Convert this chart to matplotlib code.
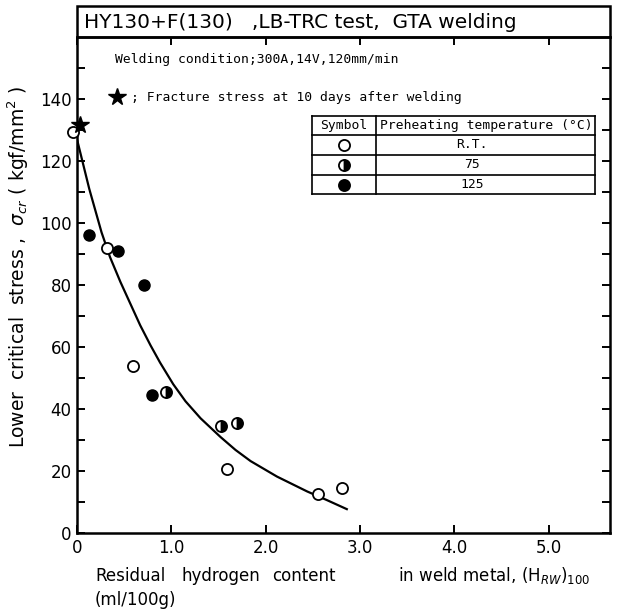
import matplotlib
matplotlib.use('Agg')
import matplotlib.pyplot as plt
from matplotlib.patches import Rectangle

# measured points, grouped by preheating temperature
rt_x = [-0.04, 0.32, 0.59, 1.59, 2.55, 2.81]
rt_y = [129.5, 92, 54, 20.5, 12.5, 14.5]
t75_x = [0.94, 1.53, 1.70]
t75_y = [45.5, 34.5, 35.5]
t125_x = [0.13, 0.43, 0.71, 0.79]
t125_y = [96, 91, 80, 44.5]
star_x = [0.03]
star_y = [131.5]

# hand drawn trend curve
curve_x = [0.0, 0.13, 0.26, 0.35, 0.46, 0.58, 0.67, 0.78, 0.88, 1.02, 1.15, 1.31, 1.52,
           1.68, 1.84, 2.12, 2.44, 2.65, 2.86]
curve_y = [127, 111, 97, 89, 81, 73, 67, 60.5, 55, 48, 42.5, 37, 31,
           26.8, 23.2, 18.2, 13.4, 10.6, 7.7]

xticks = [0, 1, 2, 3, 4, 5]
xtick_labels = ['0', '1.0', '2.0', '3.0', '4.0', '5.0']
yticks = [0, 20, 40, 60, 80, 100, 120, 140]

W, H = 642, 613
L, R, T, B = 77, 610, 37, 533

fig = plt.figure(figsize=(W / 100, H / 100), dpi=100)
ax = fig.add_axes([L / W, 1 - B / H, (R - L) / W, (B - T) / H])


def ax_pt(px, py):
    # pixel position -> axes fraction
    return (px - L) / (R - L), (B - py) / (B - T)


ax.plot(curve_x, curve_y, color='black', lw=1.6, zorder=2)
ax.plot(rt_x, rt_y, 'o', ms=8, mfc='white', mec='black', mew=1.3, ls='none', zorder=3, clip_on=False)
ax.plot(t75_x, t75_y, 'o', ms=8, fillstyle='right', mfc='black', mfcalt='white',
        mec='black', mew=1.3, ls='none', zorder=3)
ax.plot(t125_x, t125_y, 'o', ms=8, mfc='black', mec='black', ls='none', zorder=3)
ax.plot(star_x, star_y, '*', ms=13, color='black', ls='none', zorder=4, clip_on=False)

ax.set_xlim(0, 5.65)
ax.set_ylim(0, 160)
ax.set_xticks(xticks)
ax.set_xticklabels(xtick_labels)
ax.set_yticks(yticks)
ax.set_yticks(range(10, 160, 20), minor=True)
ax.tick_params(which='both', direction='in', top=True, right=True, width=1.4, labelsize=12)
ax.tick_params(which='major', length=6, pad=4)
ax.tick_params(which='minor', length=6)
for s in ax.spines.values():
    s.set_linewidth(1.8)

# title box on top of the frame
ax.add_patch(Rectangle((0, 1), 1, 31 / (B - T), transform=ax.transAxes, fill=False,
                       lw=1.8, ec='black', clip_on=False))
ax.text(*ax_pt(84, 22), 'HY130+F(130)   ,LB-TRC test,  GTA welding', transform=ax.transAxes,
        fontsize=14.5, va='center', ha='left')

mono = 'DejaVu Sans Mono'
fs = 9.4
ax.text(*ax_pt(115, 60), 'Welding condition;300A,14V,120mm/min', transform=ax.transAxes,
        family=mono, fontsize=fs, va='center')
ax.plot(*ax_pt(117, 97), '*', ms=13, color='black', transform=ax.transAxes, clip_on=False)
ax.text(*ax_pt(131, 98), '; Fracture stress at 10 days after welding', transform=ax.transAxes,
        family=mono, fontsize=fs, va='center')

# symbol table
tl, tc, tr = 312, 376, 595
rows = [116, 135, 155, 175, 194]
for y in rows:
    ax.plot([ax_pt(tl, y)[0], ax_pt(tr, y)[0]], [ax_pt(tl, y)[1]] * 2, color='black',
            lw=1.2, transform=ax.transAxes, clip_on=False)
for x in (tl, tc, tr):
    ax.plot([ax_pt(x, 0)[0]] * 2, [ax_pt(0, rows[0])[1], ax_pt(0, rows[-1])[1]], color='black',
            lw=1.2, transform=ax.transAxes, clip_on=False)
ax.text(*ax_pt((tl + tc) / 2, 126), 'Symbol', transform=ax.transAxes, family=mono,
        fontsize=fs, ha='center', va='center')
ax.text(*ax_pt((tc + tr) / 2 + 1, 126), 'Preheating temperature (\u00b0C)', transform=ax.transAxes,
        family=mono, fontsize=fs, ha='center', va='center')
sym = [dict(mfc='white', mec='black'),
       dict(fillstyle='right', mfc='black', mfcalt='white', mec='black'),
       dict(mfc='black', mec='black')]
names = ['R.T.', '75', '125']
for i in range(3):
    yc = (rows[i + 1] + rows[i + 2]) / 2
    ax.plot(*ax_pt(344, yc), 'o', ms=8, mew=1.3, transform=ax.transAxes, clip_on=False, **sym[i])
    ax.text(*ax_pt(472, yc), names[i], transform=ax.transAxes, family=mono, fontsize=fs,
            ha='center', va='center')

fig.text(18 / W, 1 - 267 / H, r'Lower  critical  stress ,  $\sigma_{cr}$ ( kgf/mm$^2$ )',
         rotation=90, fontsize=13.5, ha='center', va='center')
# x label, words spread out as on the original figure
xl_y = 1 - 576 / H
for px, word in [(95, 'Residual'), (182, 'hydrogen'), (272, 'content'),
                 (398, r'in weld metal, (H$_{RW}$)$_{100}$')]:
    fig.text(px / W, xl_y, word, fontsize=12, ha='left', va='center')
fig.text(95 / W, 1 - 600 / H, '(ml/100g)', fontsize=12, ha='left', va='center')

fig.savefig('out.png', dpi=100)
